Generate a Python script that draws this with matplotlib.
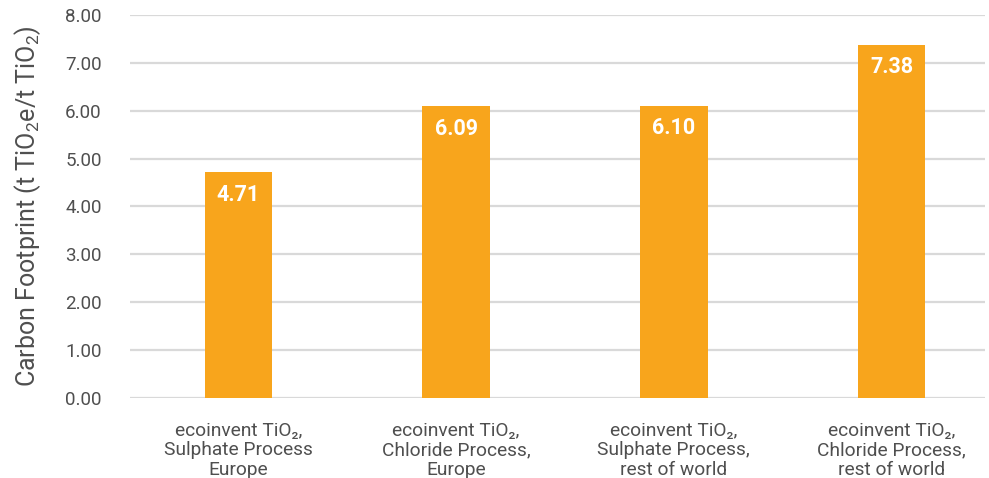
import matplotlib
matplotlib.use("Agg")
import matplotlib.pyplot as plt

categories = ["ecoinvent TiO₂,\nSulphate Process\nEurope",
              "ecoinvent TiO₂,\nChloride Process,\nEurope",
              "ecoinvent TiO₂,\nSulphate Process,\nrest of world",
              "ecoinvent TiO₂,\nChloride Process,\nrest of world"]
values = [4.71, 6.09, 6.10, 7.38]
value_labels = ["4.71", "6.09", "6.10", "7.38"]
yticks = [0, 1, 2, 3, 4, 5, 6, 7, 8]

plt.rcParams['font.family'] = ['Roboto', 'DejaVu Sans']
plt.rcParams['mathtext.fontset'] = 'custom'
plt.rcParams['mathtext.rm'] = 'Roboto'
text_color = "#4f4f4f"

fig = plt.figure(figsize=(9.89, 4.78), dpi=100)
ax = fig.add_axes([0.131, 0.167, 0.865, 0.802])

x = list(range(len(categories)))
ax.bar(x, values, width=0.31, color="#F8A51C", zorder=3)
for xi, v, lab in zip(x, values, value_labels):
    ax.text(xi, v - 0.47, lab, ha="center", va="center", color="white",
            fontsize=15.5, fontweight="bold", zorder=4)

ax.set_xlim(-0.5, 3.43)
ax.set_ylim(0, 8)
ax.set_yticks(yticks)
ax.set_yticklabels([f"{t:.2f}" for t in yticks])
ax.set_xticks(x)
ax.set_xticklabels(categories, fontsize=13.8, color=text_color, linespacing=1.1)
ax.tick_params(axis="y", labelsize=13.5, colors=text_color, length=0, pad=20)
ax.tick_params(axis="x", length=0, pad=17)
ax.grid(axis="y", color="#d9d9d9", linewidth=1.6, zorder=0)
ax.set_axisbelow(True)
for s in ax.spines.values():
    s.set_visible(False)
ax.set_ylabel("Carbon Footprint (t TiO$_\\mathregular{2}$e/t TiO$_\\mathregular{2}$)",
              fontsize=18, color=text_color, labelpad=16)

fig.savefig("out.png", dpi=100)
